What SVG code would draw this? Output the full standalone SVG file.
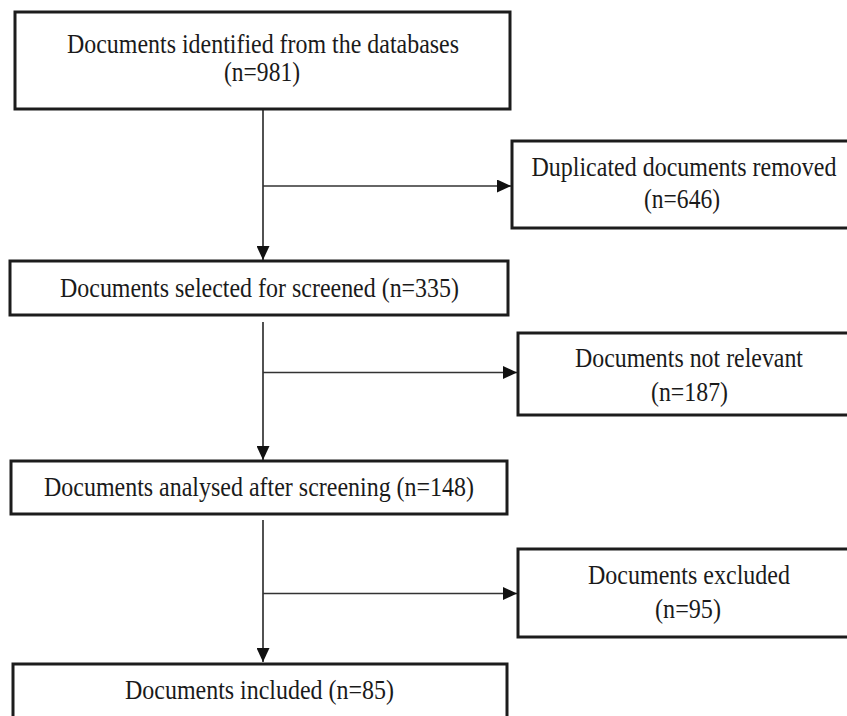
<svg xmlns="http://www.w3.org/2000/svg" width="847" height="716" viewBox="0 0 847 716">
  <style>
    .box { fill: #ffffff; stroke: #1c1c1c; stroke-width: 3; }
    .lbl { font-family: "Liberation Serif", "Times New Roman", serif; font-size: 27px; fill: #1a1a1a; text-anchor: middle; }
    .link { fill: none; stroke: #333333; stroke-width: 1.7; marker-end: url(#arrow); }
  </style>
  <defs>
    <marker id="arrow" markerUnits="userSpaceOnUse" markerWidth="15" markerHeight="13" refX="14" refY="6.5" orient="auto">
      <path d="M0,0 L14,6.5 L0,13 Z" fill="#111111"/>
    </marker>
  </defs>
  <rect width="847" height="716" fill="#ffffff"/>

  <g id="connectors">
    <line class="link" x1="263" y1="109" x2="263" y2="260"/>
    <line class="link" x1="263" y1="186" x2="511" y2="186"/>
    <line class="link" x1="263" y1="322" x2="263" y2="460"/>
    <line class="link" x1="263" y1="372.5" x2="517" y2="372.5"/>
    <line class="link" x1="263" y1="520" x2="263" y2="662"/>
    <line class="link" x1="263" y1="593.5" x2="517" y2="593.5"/>
  </g>

  <!-- labels are set in a tall, slightly condensed serif -->
  <g id="identified">
    <rect class="box" x="15" y="12" width="495" height="97"/>
    <text class="lbl" x="263" y="53" textLength="392" lengthAdjust="spacingAndGlyphs">Documents identified from the databases</text>
    <text class="lbl" x="262" y="81" textLength="76" lengthAdjust="spacingAndGlyphs">(n=981)</text>
  </g>

  <g id="duplicates">
    <rect class="box" x="512" y="141" width="345" height="87"/>
    <text class="lbl" x="684" y="176" textLength="305" lengthAdjust="spacingAndGlyphs">Duplicated documents removed</text>
    <text class="lbl" x="682" y="208" textLength="76" lengthAdjust="spacingAndGlyphs">(n=646)</text>
  </g>

  <g id="screened">
    <rect class="box" x="10" y="261" width="498" height="54"/>
    <text class="lbl" x="259.5" y="297" textLength="399" lengthAdjust="spacingAndGlyphs">Documents selected for screened (n=335)</text>
  </g>

  <g id="not-relevant">
    <rect class="box" x="518" y="333" width="344" height="82"/>
    <text class="lbl" x="689" y="367" textLength="228" lengthAdjust="spacingAndGlyphs">Documents not relevant</text>
    <text class="lbl" x="689.5" y="401" textLength="77" lengthAdjust="spacingAndGlyphs">(n=187)</text>
  </g>

  <g id="analysed">
    <rect class="box" x="11" y="461" width="496" height="53"/>
    <text class="lbl" x="259" y="496" textLength="430" lengthAdjust="spacingAndGlyphs">Documents analysed after screening (n=148)</text>
  </g>

  <g id="excluded">
    <rect class="box" x="518" y="549" width="344" height="88"/>
    <text class="lbl" x="689" y="584" textLength="202" lengthAdjust="spacingAndGlyphs">Documents excluded</text>
    <text class="lbl" x="688" y="618" textLength="66" lengthAdjust="spacingAndGlyphs">(n=95)</text>
  </g>

  <g id="included">
    <rect class="box" x="13" y="664" width="494" height="60"/>
    <text class="lbl" x="259.5" y="699" textLength="269" lengthAdjust="spacingAndGlyphs">Documents included (n=85)</text>
  </g>
</svg>
